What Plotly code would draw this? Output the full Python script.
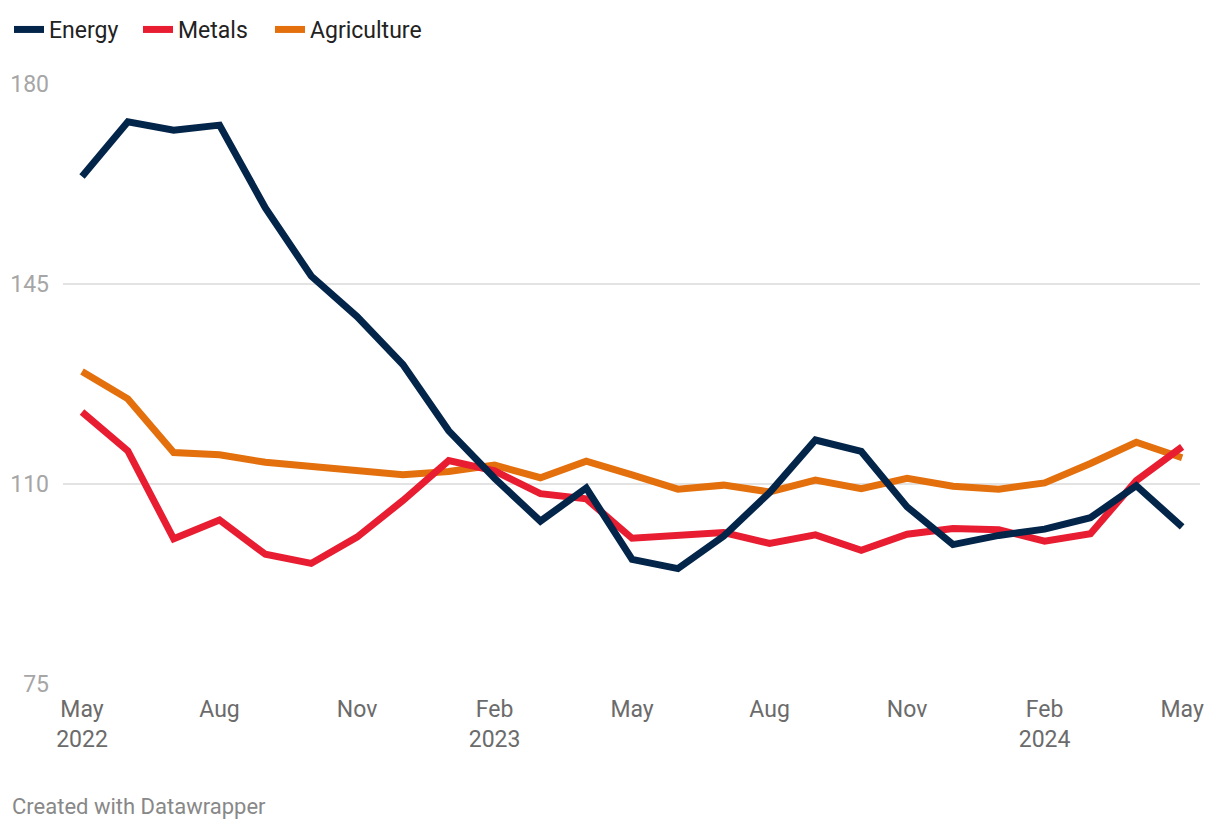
import plotly.graph_objects as go

months = list(range(25))
tick_positions = [0, 3, 6, 9, 12, 15, 18, 21, 24]
tick_labels = ["May<br>2022", "Aug", "Nov", "Feb<br>2023", "May", "Aug", "Nov", "Feb<br>2024", "May"]

energy = [163.8, 173.4, 171.9, 172.8, 158.3, 146.4, 139.3, 130.9, 119.3, 111.0, 103.5, 109.3, 96.8,
          95.2, 100.9, 108.5, 117.7, 115.7, 106.0, 99.4, 101.0, 102.1, 104.1, 109.7, 102.5]
metals = [122.6, 115.8, 100.4, 103.7, 97.7, 96.1, 100.7, 107.1, 114.1, 112.3, 108.3, 107.4, 100.5,
          101.0, 101.5, 99.6, 101.1, 98.4, 101.2, 102.2, 102.0, 100.0, 101.3, 110.6, 116.5]
agriculture = [129.7, 124.9, 115.5, 115.1, 113.8, 113.0, 112.4, 111.6, 112.2, 113.3, 111.1, 114.0, 111.6,
               109.1, 109.8, 108.6, 110.7, 109.2, 111.0, 109.6, 109.1, 110.2, 113.6, 117.3, 114.6]

y_ticks = [75, 110, 145, 180]

# The page body has an 8px default margin, so the figure is sized to fit inside it.
W, H = 1212, 822
PLOT_W, PLOT_H = 1137, 600

# (name, values, colour, legend id, legend x position in px)
series = [
    ("Agriculture", agriculture, "#e3700d", "legend3", 262),
    ("Metals", metals, "#e81d31", "legend2", 130),
    ("Energy", energy, "#04254a", "legend", 1),
]

fig = go.Figure()
legend_layouts = {}
for name, vals, color, leg, lx in series:
    fig.add_trace(go.Scatter(
        x=months, y=vals, name=name, mode="lines",
        line=dict(color=color, width=7),
        hoverinfo="skip", legend=leg,
    ))
    legend_layouts[leg] = dict(
        orientation="h",
        xref="container", yref="container",
        x=lx / W, y=1.0, xanchor="left", yanchor="top",
        font=dict(family="Roboto", size=23, color="#222222"),
        bgcolor="rgba(0,0,0,0)",
    )

fig.update_layout(
    width=W, height=H,
    margin=dict(l=55, r=20, t=76, b=146, autoexpand=False),
    paper_bgcolor="white", plot_bgcolor="white",
    font=dict(family="Roboto", size=22, color="#333333"),
    showlegend=True,
    xaxis=dict(
        range=[-0.415, 24.39],
        tickvals=tick_positions, ticktext=tick_labels,
        showgrid=False, zeroline=False, showline=False, ticks="",
        tickfont=dict(family="Roboto", size=23, color="#6b6b6b"),
        ticklabelstandoff=9,
    ),
    yaxis=dict(
        range=[75, 180],
        tickvals=y_ticks,
        showgrid=True, gridcolor="#e3e3e3", gridwidth=1.5,
        zeroline=False, showline=False, ticks="",
        tickfont=dict(family="Roboto", size=23, color="#a6a6a6"),
        ticklabelstandoff=13,
    ),
    annotations=[
        dict(text="Created with Datawrapper", xref="paper", yref="paper",
             x=-53 / PLOT_W, y=-122 / PLOT_H, xanchor="left", yanchor="middle",
             showarrow=False, font=dict(family="Roboto", size=22, color="#888888")),
    ],
)
fig.update_layout(**legend_layouts)

fig.write_html("out.html")
